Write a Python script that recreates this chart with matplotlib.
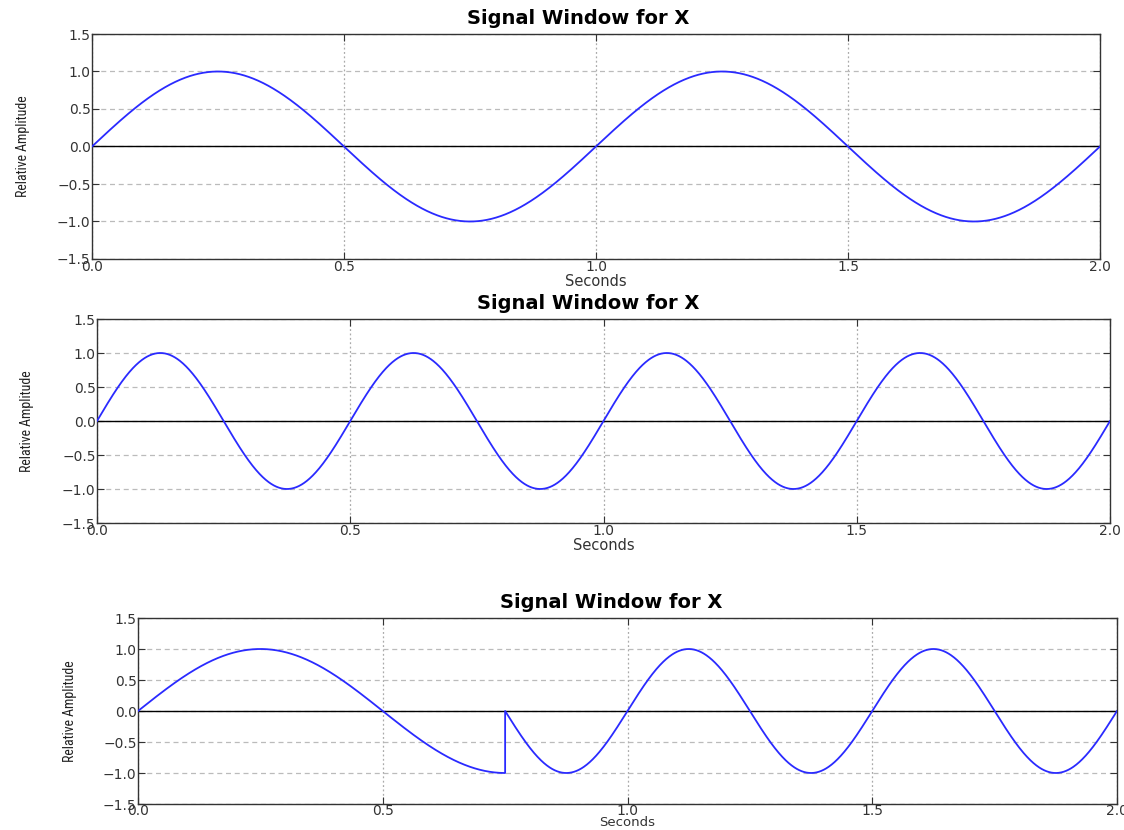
import numpy as np
import matplotlib
matplotlib.use("Agg")
import matplotlib.pyplot as plt
from matplotlib import font_manager

# ---- data ----
sample_rate = 1000          # samples per second
duration = 2.0              # seconds
freq_top = 1.0              # Hz
freq_mid = 2.0              # Hz
# bottom: piecewise frequency (start time, end time, frequency)
seg_starts = [0.0, 0.75]
seg_ends = [0.75, 2.0]
seg_freqs = [1.0, 2.0]

title = "Signal Window for X"
xlabel = "Seconds"
ylabel = "Relative Amplitude"
xticks = [0.0, 0.5, 1.0, 1.5, 2.0]
yticks = [-1.5, -1.0, -0.5, 0.0, 0.5, 1.0, 1.5]

t = np.arange(0, duration + 1e-9, 1.0 / sample_rate)
sig_top = np.sin(2 * np.pi * freq_top * t)
sig_mid = np.sin(2 * np.pi * freq_mid * t)
t_bot_parts, sig_bot_parts = [], []
for s, e, f in zip(seg_starts, seg_ends, seg_freqs):
    tt = t[(t >= s) & (t <= e)]
    t_bot_parts.append(tt)
    sig_bot_parts.append(np.sin(2 * np.pi * f * tt))
t_bot = np.concatenate(t_bot_parts)
sig_bot = np.concatenate(sig_bot_parts)

# choose a narrow font for the y label if one is available
names = {f.name for f in font_manager.fontManager.ttflist}
narrow = None
for cand in ["Liberation Sans Narrow", "DejaVu Sans Condensed", "Roboto Condensed"]:
    if cand in names:
        narrow = cand
        break

fig = plt.figure(figsize=(11.24, 8.30), dpi=100)

rects = [
    [92 / 1124, (830 - 259) / 830, (1100 - 92) / 1124, 225 / 830],
    [97 / 1124, (830 - 523) / 830, (1110 - 97) / 1124, 204 / 830],
    [138 / 1124, (830 - 804) / 830, (1117 - 138) / 1124, 186 / 830],
]
title_x = [0.482, 0.485, 0.483]
xlabel_pad = [0, 0, -1.5]
xlabel_size = [10.5, 10.5, 9.5]
xtick_pad = [1, 1, 0]
data = [(t, sig_top), (t, sig_mid), (t_bot, sig_bot)]

for i, (rect, (x, y)) in enumerate(zip(rects, data)):
    ax = fig.add_axes(rect)
    ax.plot(x, y, color="#2a2aff", lw=1.3, zorder=3)
    ax.axhline(0, color="black", lw=1.0, zorder=2)
    ax.set_xlim(0, 2)
    ax.set_ylim(-1.5, 1.5)
    ax.set_xticks(xticks)
    ax.set_yticks(yticks)
    ax.set_xticklabels([f"{v:.1f}" for v in xticks])
    ax.set_yticklabels([f"{v:.1f}".replace("-", "\u2212") for v in yticks])
    ax.xaxis.grid(True, linestyle=(0, (1.5, 2)), color="#aaaaaa", lw=0.9)
    ax.yaxis.grid(True, linestyle=(0, (4, 3)), color="#bbbbbb", lw=0.9)
    ax.set_axisbelow(True)
    ax.tick_params(direction="in", top=True, right=True, length=5,
                   labelsize=10, pad=1, colors="#333333", labelcolor="#333333")
    ax.tick_params(axis="x", pad=xtick_pad[i])
    for sp in ax.spines.values():
        sp.set_color("#333333")
        sp.set_linewidth(1.0)
    ttl = ax.set_title(title, fontsize=14, fontweight="bold", pad=7)
    ttl.set_x(title_x[i])
    ax.set_xlabel(xlabel, fontsize=xlabel_size[i], labelpad=xlabel_pad[i],
                  color="#333333")
    if narrow:
        ax.set_ylabel(ylabel, fontsize=10, family=narrow, color="#222222")
    else:
        ax.set_ylabel(ylabel, fontsize=8, family="Liberation Sans",
                      color="#222222")
    ax.yaxis.set_label_coords(-0.062, 0.5)

fig.savefig("out.png", dpi=100)
